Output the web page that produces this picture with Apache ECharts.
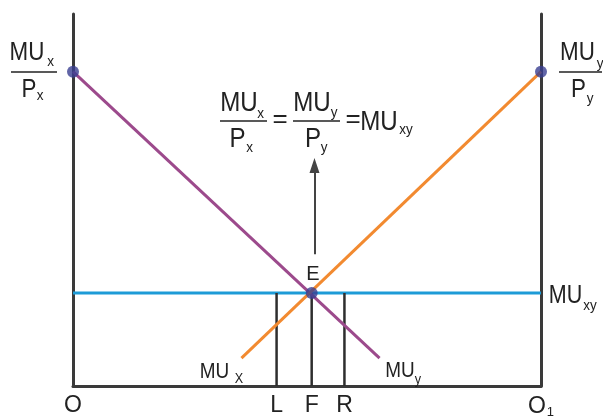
<!DOCTYPE html>
<html>
<head>
<meta charset="utf-8">
<script src="https://cdn.jsdelivr.net/npm/echarts@6/dist/echarts.min.js"></script>
<style>
  html, body { margin: 0; padding: 0; background: #fff; }
  #chart { width: 603px; height: 419px; }
</style>
</head>
<body>
<div id="chart"></div>
<script>
// quantity axis runs O -> O1 (0..100), utility axis 0..100
const tickValues = [0, 43.5, 51, 58, 100];
const tickNames = ['O', 'L', 'F', 'R', 'O1'];
const dropX = [43.5, 51, 58];            // L, F, R
const dropTop = 25;
const muxLine = [[0, 84.5], [65.5, 7.5]];  // MUx/Px falling
const muyLine = [[36, 7.5], [100, 84.5]];  // MUy/Py rising
const muxyLine = [[0, 25], [100, 25]];
const dots = [[0, 84.5], [100, 84.5], [51, 25]];
const arrowFrom = [51.6, 35.4];
const arrowTo = [51.6, 59.3];

const FONT = '"Liberation Sans", Arial, sans-serif';
const INK = '#222';

const chart = echarts.init(document.getElementById('chart'));

// text helper, slightly condensed like the original
function t(text, x, y, size, sx) {
  return {
    type: 'text', x: x, y: y, scaleX: sx || 0.86, silent: true, z: 100,
    style: { text: text, fontSize: size, fontFamily: FONT, fill: INK, align: 'center', verticalAlign: 'middle' }
  };
}
function bar(x1, x2, y) {
  return {
    type: 'line', silent: true, z: 100,
    shape: { x1: x1, y1: y, x2: x2, y2: y },
    style: { stroke: INK, lineWidth: 1.5 }
  };
}

const graphic = [
  // left MUx / Px
  t('MU', 27, 52.5, 26), t('x', 50.5, 62, 15, 0.9), bar(11, 57, 72),
  t('P', 29, 89.5, 26), t('x', 40, 96, 15, 0.9),
  // right MUy / Py
  t('MU', 577.5, 52.5, 26), t('y', 600, 64, 15, 0.9), bar(559, 602, 72),
  t('P', 578.5, 89.5, 26), t('y', 590, 99, 15, 0.9),
  // equilibrium formula
  t('MU', 239, 103, 28), t('x', 260.5, 114, 15, 0.9), bar(220, 267, 121),
  t('P', 237.5, 139.5, 28), t('x', 249.5, 148, 15, 0.9),
  t('=', 280, 120, 26, 1),
  t('MU', 312, 103, 28), t('y', 334, 113, 15, 0.9), bar(293, 340, 121),
  t('P', 313, 139.5, 28), t('y', 324, 148, 15, 0.9),
  t('=', 353, 120, 26, 1),
  t('MU', 379, 122, 28), t('xy', 406, 130, 15, 0.9),
  // curve labels
  t('E', 313, 274.5, 21, 0.95),
  t('MU', 214.5, 371.5, 22), t('X', 239, 379.5, 14, 0.9),
  t('MU', 400, 371, 22), t('y', 418, 380, 14, 0.9),
  t('MU', 565.5, 296.5, 25), t('xy', 590, 306, 15, 0.9)
];

const axisLine = { show: true, lineStyle: { color: '#3a3a3a', width: 3 } };

const dropSeries = dropX.map(function (x) {
  return {
    type: 'line', data: [[x, 0], [x, dropTop]], symbol: 'none', silent: true,
    lineStyle: { color: '#2e2e2e', width: 2.5 }, z: 3
  };
});

chart.setOption({
  animation: false,
  grid: { left: 73, right: 62, top: 14, bottom: 29 },
  xAxis: {
    type: 'value', min: 0, max: 100,
    axisLine: axisLine, axisTick: { show: false }, splitLine: { show: false },
    axisLabel: {
      customValues: tickValues, margin: 8, fontSize: 23, fontFamily: FONT, color: INK,
      formatter: function (v) {
        const n = tickNames[tickValues.indexOf(v)];
        return n === 'O1' ? '{b|O}{s|1}' : n;
      },
      rich: {
        b: { fontSize: 23, fontFamily: FONT, color: INK },
        s: { fontSize: 13, fontFamily: FONT, color: INK, padding: [12, 0, 0, 1] }
      }
    }
  },
  yAxis: [
    { type: 'value', min: 0, max: 100, position: 'left', axisLine: axisLine,
      axisTick: { show: false }, axisLabel: { show: false }, splitLine: { show: false } },
    { type: 'value', min: 0, max: 100, position: 'right', axisLine: axisLine,
      axisTick: { show: false }, axisLabel: { show: false }, splitLine: { show: false } }
  ],
  series: [
    {
      type: 'line', data: muxyLine, symbol: 'none', silent: true, z: 2,
      lineStyle: { color: '#1d9bd7', width: 3 },
      markLine: {
        silent: true, symbol: ['none', 'triangle'], symbolSize: [10, 15],
        label: { show: false },
        lineStyle: { color: '#444', width: 2, type: 'solid' },
        data: [[{ coord: arrowFrom }, { coord: arrowTo }]]
      }
    },
    { type: 'line', data: muxLine, symbol: 'none', silent: true, z: 4,
      lineStyle: { color: '#9c4a8c', width: 3 } },
    { type: 'line', data: muyLine, symbol: 'none', silent: true, z: 4,
      lineStyle: { color: '#f28a30', width: 3 } }
  ].concat(dropSeries).concat([
    { type: 'scatter', data: dots, symbolSize: 12, silent: true, z: 10,
      itemStyle: { color: '#393e91' } }
  ]),
  graphic: graphic
});
</script>
</body>
</html>
